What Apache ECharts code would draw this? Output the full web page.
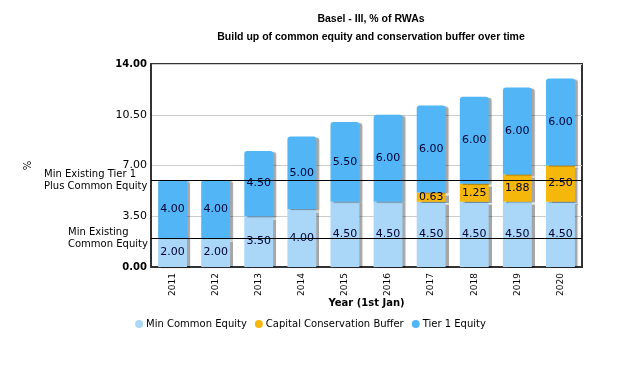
<!DOCTYPE html>
<html><head><meta charset="utf-8">
<script src="https://cdn.jsdelivr.net/npm/echarts@6/dist/echarts.min.js"></script>
<style>html,body{margin:0;padding:0;background:#fff}#c{width:621px;height:384px}</style>
</head><body><div id="c"></div>
<script>
const years = ['2011','2012','2013','2014','2015','2016','2017','2018','2019','2020'];
const minCommonEquity = [2.00, 2.00, 3.50, 4.00, 4.50, 4.50, 4.50, 4.50, 4.50, 4.50];
const conservationBuffer = [null, null, null, null, null, null, 0.63, 1.25, 1.88, 2.50];
const tier1Equity = [4.00, 4.00, 4.50, 5.00, 5.50, 6.00, 6.00, 6.00, 6.00, 6.00];
const refLineNames = ['Min Existing Tier 1\nPlus Common Equity', 'Min Existing\nCommon Equity'];
const refLineValues = [6.0, 2.0];
const yTicks = {min: 0, max: 14, interval: 3.5};

const FONT = 'DejaVu Sans';
const refLabelWidths = [103, 79];
const chart = echarts.init(document.getElementById('c'));
const barLabel = {show: true, position: 'inside', color: '#000033', fontFamily: FONT, fontSize: 11,
  formatter: p => p.value == null ? '' : Number(p.value).toFixed(2)};
const shadow = {shadowColor: 'rgba(0,0,0,0.35)', shadowOffsetX: 3, shadowOffsetY: 1, shadowBlur: 1};
chart.setOption({
  animation: false,
  title: {
    text: 'Basel - III, % of RWAs\nBuild up of common equity and conservation buffer over time',
    left: 366, top: 5, textAlign: 'center',
    textStyle: {fontFamily: 'Liberation Sans', fontSize: 10.5, fontWeight: 'bold', color: '#000', lineHeight: 18}
  },
  legend: {
    top: 314, left: 'center', itemWidth: 8, itemHeight: 8, itemGap: 8, icon: 'circle',
    textStyle: {fontFamily: FONT, fontSize: 10, color: '#000', padding: [0, 0, 0, -2]},
    data: ['Min Common Equity', 'Capital Conservation Buffer', 'Tier 1 Equity']
  },
  grid: {left: 151, right: 39, top: 64, bottom: 117, show: true, borderColor: '#333', borderWidth: 2},
  xAxis: {
    type: 'category', data: years,
    name: 'Year (1st Jan)', nameLocation: 'middle', nameGap: 31, nameMoveOverlap: false,
    nameTextStyle: {fontFamily: FONT, fontSize: 10, fontWeight: 'bold', color: '#000'},
    axisLine: {lineStyle: {color: '#333', width: 2}},
    axisTick: {show: false},
    axisLabel: {rotate: 90, fontFamily: FONT, fontSize: 9, color: '#000', margin: 6}
  },
  yAxis: {
    type: 'value', min: yTicks.min, max: yTicks.max, interval: yTicks.interval,
    name: '%', nameLocation: 'middle', nameGap: 118, nameRotate: 90,
    nameTextStyle: {fontFamily: FONT, fontSize: 10, color: '#000'},
    axisLine: {show: true, lineStyle: {color: '#333', width: 2}},
    axisTick: {show: false},
    splitLine: {lineStyle: {color: '#ccc'}},
    axisLabel: {
      fontFamily: FONT, fontSize: 11, color: '#000', margin: 4,
      formatter: v => (v === yTicks.min || v === yTicks.max) ? '{b|' + v.toFixed(2) + '}' : v.toFixed(2),
      rich: {b: {fontWeight: 'bold', fontFamily: FONT, fontSize: 10, color: '#000'}}
    }
  },
  series: [
    {name: 'Min Common Equity', type: 'bar', stack: 't', barWidth: '67%', data: minCommonEquity,
     itemStyle: Object.assign({color: '#aad6f7'}, shadow), label: barLabel,
     markLine: {
       symbol: 'none', silent: true,
       lineStyle: {color: '#000', width: 1, type: 'solid'},
       data: refLineValues.map((v, i) => ({
         name: refLineNames[i], yAxis: v,
         label: {position: 'start', distance: 4, color: '#000',
           formatter: p => p.name.split('\n').map(s => '{a|' + s + '}').join('\n'),
           rich: {a: {width: refLabelWidths[i], align: 'left', fontFamily: FONT, fontSize: 10,
                      color: '#000', lineHeight: 12}}}
       }))
     }},
    {name: 'Capital Conservation Buffer', type: 'bar', stack: 't', data: conservationBuffer,
     itemStyle: Object.assign({color: '#f5b80a'}, shadow), label: barLabel},
    {name: 'Tier 1 Equity', type: 'bar', stack: 't', data: tier1Equity,
     itemStyle: Object.assign({color: '#52b5f5', borderRadius: [3,3,0,0]}, shadow), label: barLabel}
  ]
});
</script></body></html>
